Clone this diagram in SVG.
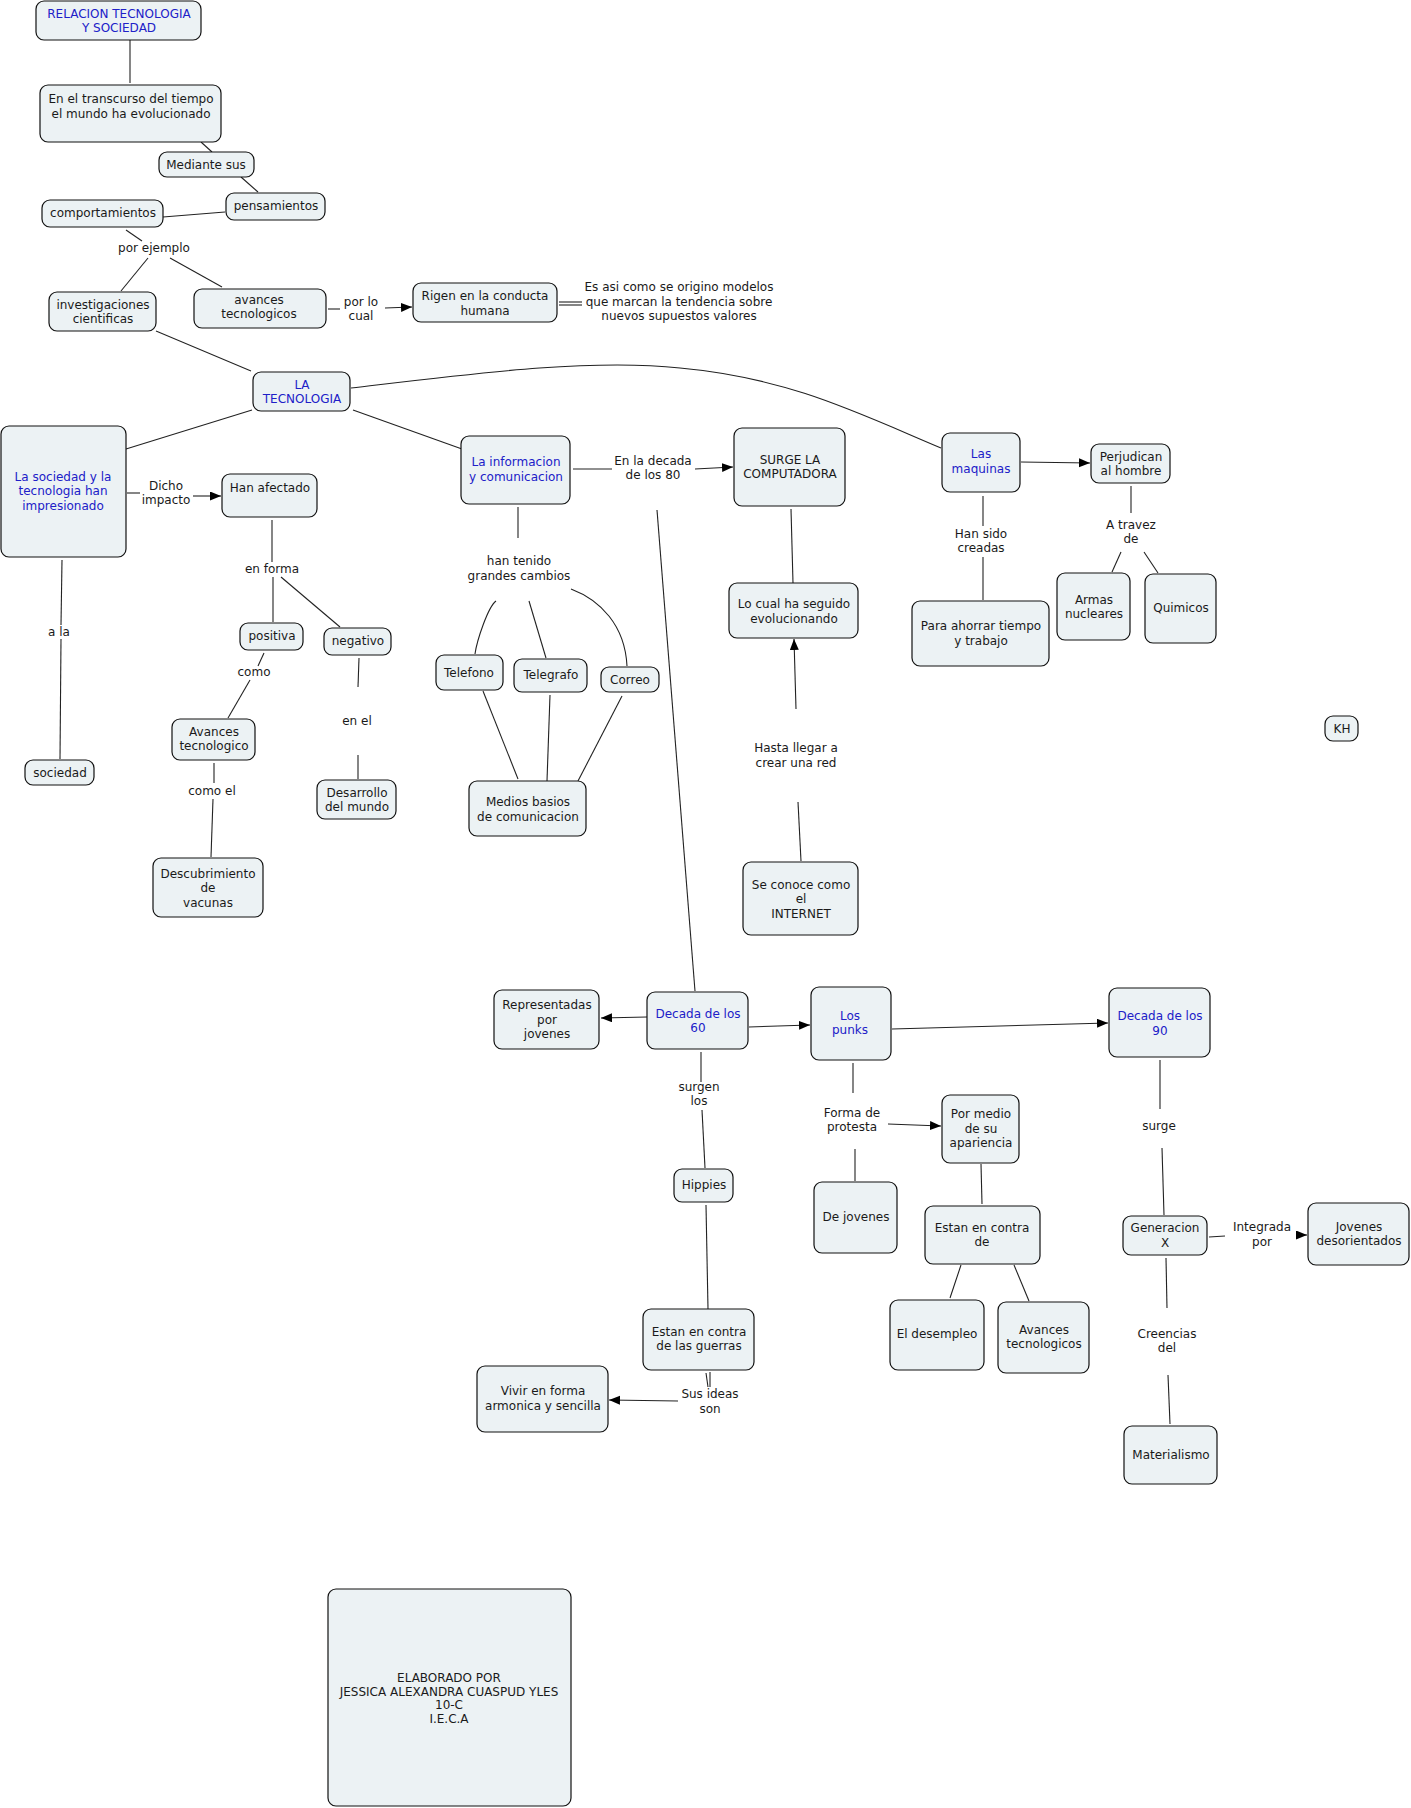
<svg xmlns="http://www.w3.org/2000/svg" width="1411" height="1808" viewBox="0 0 1411 1808">
<style>
.n rect{fill:#ecf2f4;stroke:#111;stroke-width:1.2}
text{font-family:"DejaVu Sans",Verdana,"Liberation Sans",sans-serif;font-size:12px;text-anchor:middle;fill:#1a1a1a}
.b text{fill:#2020c8}
#connectors line,#connectors path{stroke:#222;stroke-width:1.1;fill:none}
#connectors .a{marker-end:url(#ah)}
</style>
<defs>
<marker id="ah" markerUnits="userSpaceOnUse" markerWidth="12" markerHeight="10" refX="11" refY="4.5" orient="auto"><path d="M0,0 L11,4.5 L0,9 z" fill="#000"/></marker>
</defs>
<rect width="1411" height="1808" fill="#fff"/>
<g id="connectors">
<line x1="130" y1="40" x2="130" y2="83"/>
<line x1="201" y1="142" x2="212" y2="152"/>
<line x1="241" y1="177" x2="258" y2="192"/>
<line x1="163" y1="217" x2="225" y2="212"/>
<line x1="126" y1="230" x2="142" y2="241"/>
<line x1="148" y1="258" x2="121" y2="291"/>
<line x1="170" y1="258" x2="222" y2="287"/>
<line x1="328" y1="309" x2="340" y2="309"/>
<line class="a" x1="385" y1="308" x2="412" y2="307"/>
<line x1="559" y1="302" x2="582" y2="302"/>
<line x1="559" y1="305" x2="582" y2="305"/>
<line x1="156" y1="331" x2="251" y2="371"/>
<path d="M351,388 C470,374 590,358 680,368 C790,378 860,414 941,448"/>
<line x1="252" y1="410" x2="126" y2="449"/>
<line x1="353" y1="410" x2="462" y2="449"/>
<line x1="127" y1="493" x2="140" y2="493"/>
<line class="a" x1="193" y1="496" x2="221" y2="496"/>
<line x1="272" y1="520" x2="272" y2="562"/>
<line x1="273" y1="577" x2="273" y2="622"/>
<line x1="281" y1="577" x2="340" y2="627"/>
<line x1="264" y1="653" x2="258" y2="666"/>
<line x1="250" y1="680" x2="228" y2="718"/>
<line x1="214" y1="763" x2="214" y2="783"/>
<line x1="213" y1="799" x2="211" y2="857"/>
<line x1="359" y1="658" x2="358" y2="687"/>
<line x1="358" y1="755" x2="358" y2="779"/>
<line x1="62" y1="560" x2="61" y2="625"/>
<line x1="61" y1="639" x2="60" y2="759"/>
<line x1="573" y1="469" x2="612" y2="469"/>
<line class="a" x1="695" y1="469" x2="733" y2="467"/>
<line x1="791" y1="509" x2="793" y2="583"/>
<line class="a" x1="796" y1="709" x2="794" y2="639"/>
<line x1="798" y1="802" x2="801" y2="861"/>
<line x1="518" y1="507" x2="518" y2="538"/>
<path d="M496,601 C488,607 477,640 475,654"/>
<line x1="529" y1="601" x2="546" y2="658"/>
<path d="M571,589 C600,600 625,625 627,666"/>
<line x1="483" y1="691" x2="518" y2="779"/>
<line x1="550" y1="695" x2="547" y2="781"/>
<line x1="622" y1="696" x2="578" y2="781"/>
<line x1="657" y1="510" x2="695" y2="991"/>
<line x1="983" y1="496" x2="983" y2="526"/>
<line x1="983" y1="557" x2="983" y2="600"/>
<line class="a" x1="1021" y1="462" x2="1090" y2="463"/>
<line x1="1131" y1="486" x2="1131" y2="513"/>
<line x1="1121" y1="552" x2="1112" y2="572"/>
<line x1="1144" y1="552" x2="1158" y2="573"/>
<line class="a" x1="647" y1="1017" x2="601" y2="1018"/>
<line class="a" x1="749" y1="1027" x2="810" y2="1025"/>
<line class="a" x1="892" y1="1029" x2="1108" y2="1023"/>
<line x1="701" y1="1052" x2="701" y2="1082"/>
<line x1="702" y1="1110" x2="705" y2="1168"/>
<line x1="706" y1="1205" x2="708" y2="1309"/>
<line x1="706" y1="1373" x2="708" y2="1387"/>
<line x1="710" y1="1372" x2="710" y2="1387"/>
<line class="a" x1="678" y1="1401" x2="609" y2="1400"/>
<line x1="853" y1="1063" x2="853" y2="1093"/>
<line class="a" x1="888" y1="1124" x2="941" y2="1126"/>
<line x1="855" y1="1149" x2="855" y2="1181"/>
<line x1="981" y1="1164" x2="982" y2="1204"/>
<line x1="961" y1="1265" x2="950" y2="1298"/>
<line x1="1014" y1="1265" x2="1029" y2="1301"/>
<line x1="1160" y1="1060" x2="1160" y2="1109"/>
<line x1="1162" y1="1148" x2="1164" y2="1215"/>
<line x1="1209" y1="1237" x2="1225" y2="1236"/>
<line class="a" x1="1296" y1="1235" x2="1307" y2="1235"/>
<line x1="1166" y1="1258" x2="1167" y2="1308"/>
<line x1="1168" y1="1375" x2="1170" y2="1424"/>
</g>
<g id="labels">
<text x="154" y="252">por ejemplo</text>
<text x="361" y="306">por lo</text><text x="361" y="320">cual</text>
<text x="679" y="291">Es asi como se origino modelos</text><text x="679" y="306">que marcan la tendencia sobre</text><text x="679" y="320">nuevos supuestos valores</text>
<text x="166" y="490">Dicho</text><text x="166" y="504">impacto</text>
<text x="272" y="573">en forma</text>
<text x="254" y="676">como</text>
<text x="212" y="795">como el</text>
<text x="357" y="725">en el</text>
<text x="59" y="636">a la</text>
<text x="653" y="465">En la decada</text><text x="653" y="479">de los 80</text>
<text x="519" y="565">han tenido</text><text x="519" y="580">grandes cambios</text>
<text x="796" y="752">Hasta llegar a</text><text x="796" y="767">crear una red</text>
<text x="981" y="538">Han sido</text><text x="981" y="552">creadas</text>
<text x="1131" y="529">A travez</text><text x="1131" y="543">de</text>
<text x="699" y="1091">surgen</text><text x="699" y="1105">los</text>
<text x="710" y="1398">Sus ideas</text><text x="710" y="1413">son</text>
<text x="852" y="1117">Forma de</text><text x="852" y="1131">protesta</text>
<text x="1159" y="1130">surge</text>
<text x="1262" y="1231">Integrada</text><text x="1262" y="1246">por</text>
<text x="1167" y="1338">Creencias</text><text x="1167" y="1352">del</text>
</g>
<g id="n1" class="n b"><rect x="36" y="1" width="165" height="39" rx="8"/><text x="119" y="18">RELACION TECNOLOGIA</text><text x="119" y="32">Y SOCIEDAD</text></g>
<g id="n2" class="n"><rect x="40" y="85" width="181" height="57" rx="8"/><text x="131" y="103">En el transcurso del tiempo</text><text x="131" y="118">el mundo ha evolucionado</text></g>
<g id="n3" class="n"><rect x="159" y="152" width="95" height="25" rx="8"/><text x="206" y="169">Mediante sus</text></g>
<g id="n4" class="n"><rect x="226" y="193" width="99" height="27" rx="8"/><text x="276" y="210">pensamientos</text></g>
<g id="n5" class="n"><rect x="42" y="200" width="121" height="27" rx="8"/><text x="103" y="217">comportamientos</text></g>
<g id="n6" class="n"><rect x="49" y="292" width="107" height="39" rx="8"/><text x="103" y="309">investigaciones</text><text x="103" y="323">cientificas</text></g>
<g id="n7" class="n"><rect x="194" y="289" width="132" height="39" rx="8"/><text x="259" y="304">avances</text><text x="259" y="318">tecnologicos</text></g>
<g id="n8" class="n"><rect x="413" y="283" width="144" height="39" rx="8"/><text x="485" y="300">Rigen en la conducta</text><text x="485" y="315">humana</text></g>
<g id="n9" class="n b"><rect x="253" y="372" width="97" height="39" rx="8"/><text x="302" y="389">LA</text><text x="302" y="403">TECNOLOGIA</text></g>
<g id="n10" class="n b"><rect x="1" y="426" width="125" height="131" rx="8"/><text x="63" y="481">La sociedad y la</text><text x="63" y="495">tecnologia han</text><text x="63" y="510">impresionado</text></g>
<g id="n11" class="n"><rect x="222" y="474" width="95" height="43" rx="8"/><text x="270" y="492">Han afectado</text></g>
<g id="n12" class="n"><rect x="240" y="623" width="63" height="27" rx="8"/><text x="272" y="640">positiva</text></g>
<g id="n13" class="n"><rect x="324" y="628" width="67" height="27" rx="8"/><text x="358" y="645">negativo</text></g>
<g id="n14" class="n"><rect x="172" y="719" width="83" height="41" rx="8"/><text x="214" y="736">Avances</text><text x="214" y="750">tecnologico</text></g>
<g id="n15" class="n"><rect x="153" y="858" width="110" height="59" rx="8"/><text x="208" y="878">Descubrimiento</text><text x="208" y="892">de</text><text x="208" y="907">vacunas</text></g>
<g id="n16" class="n"><rect x="317" y="780" width="79" height="39" rx="8"/><text x="357" y="797">Desarrollo</text><text x="357" y="811">del mundo</text></g>
<g id="n17" class="n"><rect x="25" y="760" width="69" height="25" rx="8"/><text x="60" y="777">sociedad</text></g>
<g id="n18" class="n b"><rect x="461" y="436" width="109" height="68" rx="8"/><text x="516" y="466">La informacion</text><text x="516" y="481">y comunicacion</text></g>
<g id="n19" class="n"><rect x="734" y="428" width="111" height="78" rx="8"/><text x="790" y="464">SURGE LA</text><text x="790" y="478">COMPUTADORA</text></g>
<g id="n20" class="n"><rect x="729" y="583" width="129" height="55" rx="8"/><text x="794" y="608">Lo cual ha seguido</text><text x="794" y="623">evolucionando</text></g>
<g id="n21" class="n"><rect x="743" y="862" width="115" height="73" rx="8"/><text x="801" y="889">Se conoce como</text><text x="801" y="903">el</text><text x="801" y="918">INTERNET</text></g>
<g id="n22" class="n"><rect x="436" y="655" width="67" height="35" rx="8"/><text x="469" y="677">Telefono</text></g>
<g id="n23" class="n"><rect x="514" y="659" width="73" height="33" rx="8"/><text x="551" y="679">Telegrafo</text></g>
<g id="n24" class="n"><rect x="601" y="667" width="58" height="25" rx="8"/><text x="630" y="684">Correo</text></g>
<g id="n25" class="n"><rect x="469" y="781" width="117" height="55" rx="8"/><text x="528" y="806">Medios basios</text><text x="528" y="821">de comunicacion</text></g>
<g id="n26" class="n b"><rect x="942" y="433" width="78" height="59" rx="8"/><text x="981" y="458">Las</text><text x="981" y="473">maquinas</text></g>
<g id="n27" class="n"><rect x="1091" y="444" width="79" height="39" rx="8"/><text x="1131" y="461">Perjudican</text><text x="1131" y="475">al hombre</text></g>
<g id="n28" class="n"><rect x="912" y="601" width="137" height="65" rx="8"/><text x="981" y="630">Para ahorrar tiempo</text><text x="981" y="645">y trabajo</text></g>
<g id="n29" class="n"><rect x="1057" y="573" width="73" height="67" rx="8"/><text x="1094" y="604">Armas</text><text x="1094" y="618">nucleares</text></g>
<g id="n30" class="n"><rect x="1145" y="574" width="71" height="69" rx="8"/><text x="1181" y="612">Quimicos</text></g>
<g id="n31" class="n"><rect x="1325" y="716" width="33" height="25" rx="8"/><text x="1342" y="733">KH</text></g>
<g id="n32" class="n b"><rect x="647" y="992" width="101" height="57" rx="8"/><text x="698" y="1018">Decada de los</text><text x="698" y="1032">60</text></g>
<g id="n33" class="n"><rect x="494" y="990" width="105" height="59" rx="8"/><text x="547" y="1009">Representadas</text><text x="547" y="1024">por</text><text x="547" y="1038">jovenes</text></g>
<g id="n34" class="n b"><rect x="811" y="987" width="80" height="73" rx="8"/><text x="850" y="1020">Los</text><text x="850" y="1034">punks</text></g>
<g id="n35" class="n b"><rect x="1109" y="988" width="101" height="69" rx="8"/><text x="1160" y="1020">Decada de los</text><text x="1160" y="1035">90</text></g>
<g id="n36" class="n"><rect x="674" y="1169" width="59" height="33" rx="8"/><text x="704" y="1189">Hippies</text></g>
<g id="n37" class="n"><rect x="643" y="1309" width="111" height="61" rx="8"/><text x="699" y="1336">Estan en contra</text><text x="699" y="1350">de las guerras</text></g>
<g id="n38" class="n"><rect x="477" y="1366" width="131" height="66" rx="8"/><text x="543" y="1395">Vivir en forma</text><text x="543" y="1410">armonica y sencilla</text></g>
<g id="n39" class="n"><rect x="942" y="1095" width="77" height="68" rx="8"/><text x="981" y="1118">Por medio</text><text x="981" y="1133">de su</text><text x="981" y="1147">apariencia</text></g>
<g id="n40" class="n"><rect x="814" y="1182" width="83" height="71" rx="8"/><text x="856" y="1221">De jovenes</text></g>
<g id="n41" class="n"><rect x="925" y="1206" width="115" height="58" rx="8"/><text x="982" y="1232">Estan en contra</text><text x="982" y="1246">de</text></g>
<g id="n42" class="n"><rect x="890" y="1300" width="94" height="70" rx="8"/><text x="937" y="1338">El desempleo</text></g>
<g id="n43" class="n"><rect x="998" y="1302" width="91" height="71" rx="8"/><text x="1044" y="1334">Avances</text><text x="1044" y="1348">tecnologicos</text></g>
<g id="n44" class="n"><rect x="1123" y="1216" width="84" height="39" rx="8"/><text x="1165" y="1232">Generacion</text><text x="1165" y="1247">X</text></g>
<g id="n45" class="n"><rect x="1308" y="1203" width="101" height="62" rx="8"/><text x="1359" y="1231">Jovenes</text><text x="1359" y="1245">desorientados</text></g>
<g id="n46" class="n"><rect x="1124" y="1426" width="93" height="58" rx="8"/><text x="1171" y="1459">Materialismo</text></g>
<g id="n47" class="n"><rect x="328" y="1589" width="243" height="217" rx="8"/><text x="449" y="1682">ELABORADO POR</text><text x="449" y="1696">JESSICA ALEXANDRA CUASPUD YLES</text><text x="449" y="1709">10-C</text><text x="449" y="1723">I.E.C.A</text></g>
</svg>
